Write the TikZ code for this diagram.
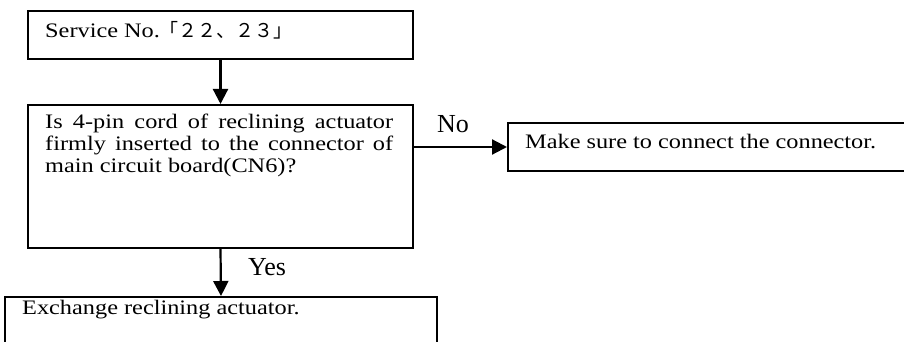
\documentclass[tikz,border=0pt]{standalone}
\usepackage{fontspec}
\setmainfont{Liberation Serif}[FakeStretch=1.18]
\newfontfamily\lblfont{Liberation Serif}
\newfontfamily\jpfont{Noto Sans CJK JP}
\usetikzlibrary{arrows.meta}
\begin{document}
\begin{tikzpicture}[x=1pt,y=-1pt,
  box/.style={draw, line width=2pt, inner sep=0pt},
  txt/.style={inner sep=0pt, font=\fontsize{20.6}{22}\selectfont},
  lbl/.style={inner sep=0pt, font=\fontsize{26}{30}\lblfont},
  arr/.style={line width=2.2pt, -{Triangle[length=15pt,width=15pt]}}]
\useasboundingbox (0,0) rectangle (904,342);
\clip (0,0) rectangle (904,342);
\fill[white] (0,0) rectangle (904,342);
% boxes
\node[box, minimum width=385pt, minimum height=48pt] (b1) at (220.5,35) {};
\node[box, minimum width=385pt, minimum height=143pt] (b2) at (220.5,176.5) {};
\node[box, minimum width=410pt, minimum height=48pt] (b3) at (713,147) {};
\node[box, minimum width=432pt, minimum height=60pt] (b4) at (221,327) {};
% texts
\node[txt, anchor=base west] (t1) at (45,38) {Service No.{\jpfont\fontsize{19}{22}\selectfont 「２２、２３」}};
\node[txt, anchor=north west, text width=348pt, align=justify] (t2) at (45,114)
  {Is 4-pin cord of reclining actuator\linebreak firmly inserted to the connector of\linebreak main circuit board(CN6)?};
\node[txt, anchor=base west] (t3) at (525,148) {Make sure to connect the connector.};
\node[txt, anchor=base west] (t4) at (22,314) {Exchange reclining actuator.};
% connectors
\draw[arr] (b1.south) -- (b2.north);
\draw[arr] (b2.east |- b3.west) -- (b3.west);
\draw[arr] (b2.south) -- (b4.north);
\node[lbl, anchor=base] (no) at (453,132) {No};
\node[lbl, anchor=base] (yes) at (267,275) {Yes};
\end{tikzpicture}
\end{document}
